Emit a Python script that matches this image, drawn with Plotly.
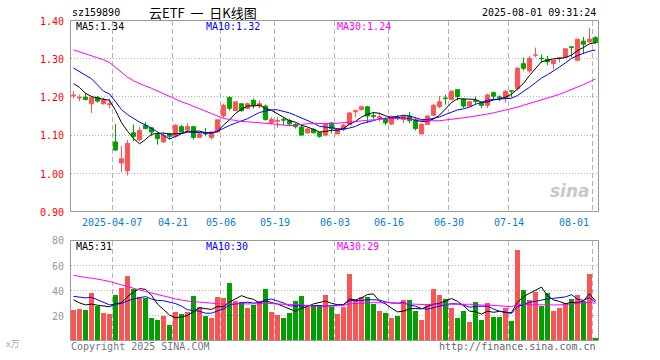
import numpy as np
import plotly.graph_objects as go

# ---------------- data ----------------
tick_index = [7, 17, 25, 34, 44, 53, 63, 73, 87]
tick_labels = ["2025-04-07", "04-21", "05-06", "05-19", "06-03", "06-16", "06-30", "07-14", "08-01"]

open_ = [1.203, 1.197, 1.199, 1.182, 1.199, 1.182, 1.180, 1.082, 1.027, 1.007,
         1.106, 1.088, 1.126, 1.119, 1.101, 1.082, 1.103, 1.097, 1.122, 1.114,
         1.122, 1.094, 1.106, 1.094, 1.108, 1.150, 1.199, 1.164, 1.182, 1.170,
         1.191, 1.176, 1.176, 1.132, 1.136, 1.141, 1.138, 1.128, 1.121, 1.106,
         1.115, 1.106, 1.100, 1.132, 1.103, 1.115, 1.128, 1.161, 1.167, 1.174,
         1.151, 1.145, 1.141, 1.129, 1.147, 1.141, 1.150, 1.138, 1.103, 1.128,
         1.152, 1.175, 1.197, 1.193, 1.219, 1.193, 1.176, 1.190, 1.184, 1.178,
         1.211, 1.200, 1.198, 1.216, 1.222, 1.287, 1.268, 1.309, 1.301, 1.298,
         1.287, 1.302, 1.304, 1.331, 1.296, 1.346, 1.344, 1.355]
high = [1.215, 1.206, 1.210, 1.200, 1.202, 1.198, 1.196, 1.129, 1.071, 1.087,
        1.128, 1.122, 1.134, 1.121, 1.106, 1.106, 1.106, 1.128, 1.126, 1.131,
        1.122, 1.108, 1.119, 1.110, 1.140, 1.182, 1.201, 1.187, 1.182, 1.185,
        1.196, 1.191, 1.180, 1.147, 1.147, 1.147, 1.143, 1.132, 1.126, 1.119,
        1.119, 1.108, 1.130, 1.134, 1.117, 1.130, 1.161, 1.167, 1.177, 1.177,
        1.161, 1.159, 1.147, 1.151, 1.152, 1.152, 1.161, 1.145, 1.132, 1.152,
        1.182, 1.202, 1.206, 1.217, 1.219, 1.196, 1.189, 1.201, 1.188, 1.208,
        1.214, 1.204, 1.219, 1.217, 1.278, 1.303, 1.307, 1.329, 1.311, 1.307,
        1.296, 1.304, 1.326, 1.333, 1.351, 1.357, 1.381, 1.359]
low = [1.196, 1.189, 1.191, 1.158, 1.185, 1.180, 1.170, 1.059, 1.003, 0.994,
       1.084, 1.084, 1.115, 1.097, 1.075, 1.080, 1.088, 1.093, 1.106, 1.106,
       1.088, 1.093, 1.097, 1.088, 1.106, 1.145, 1.164, 1.163, 1.161, 1.168,
       1.170, 1.170, 1.138, 1.128, 1.119, 1.126, 1.123, 1.117, 1.100, 1.104,
       1.104, 1.093, 1.097, 1.104, 1.103, 1.110, 1.126, 1.147, 1.164, 1.132,
       1.143, 1.136, 1.126, 1.126, 1.139, 1.131, 1.131, 1.112, 1.101, 1.126,
       1.150, 1.170, 1.180, 1.191, 1.191, 1.171, 1.174, 1.180, 1.171, 1.171,
       1.194, 1.189, 1.185, 1.199, 1.217, 1.269, 1.263, 1.304, 1.290, 1.283,
       1.272, 1.290, 1.302, 1.304, 1.294, 1.313, 1.342, 1.339]
close = [1.205, 1.199, 1.193, 1.198, 1.189, 1.193, 1.182, 1.061, 1.038, 1.078,
         1.097, 1.112, 1.117, 1.108, 1.091, 1.100, 1.097, 1.126, 1.108, 1.122,
         1.094, 1.103, 1.103, 1.108, 1.140, 1.178, 1.170, 1.187, 1.164, 1.182,
         1.178, 1.182, 1.141, 1.141, 1.138, 1.139, 1.129, 1.122, 1.100, 1.116,
         1.106, 1.097, 1.128, 1.117, 1.115, 1.126, 1.158, 1.164, 1.174, 1.150,
         1.149, 1.148, 1.132, 1.149, 1.145, 1.150, 1.138, 1.117, 1.128, 1.150,
         1.178, 1.187, 1.196, 1.215, 1.201, 1.176, 1.187, 1.188, 1.178, 1.205,
         1.202, 1.198, 1.214, 1.215, 1.275, 1.275, 1.301, 1.310, 1.300, 1.292,
         1.296, 1.303, 1.326, 1.329, 1.351, 1.338, 1.351, 1.342]
# closes of the 29 sessions before the window (estimated from the MA lines)
prior_close = [1.34, 1.35, 1.36, 1.35, 1.35, 1.40, 1.44, 1.45, 1.44, 1.38,
               1.34, 1.30, 1.28, 1.30, 1.33, 1.34, 1.32, 1.30, 1.28, 1.29,
               1.29, 1.30, 1.28, 1.35, 1.36, 1.25, 1.27, 1.24, 1.21]

volume = [24.8, 25.6, 24.8, 38.4, 27.7, 22.4, 21.6, 36.8, 42.4, 52.0,
          41.3, 34.9, 34.1, 18.4, 16.8, 19.7, 12.8, 23.2, 21.6, 23.2,
          36.0, 27.2, 19.5, 18.4, 35.2, 34.4, 46.4, 32.0, 31.2, 26.4,
          28.5, 32.0, 41.6, 23.2, 20.8, 18.4, 22.4, 32.0, 36.0, 27.2,
          28.8, 28.8, 36.8, 27.2, 21.6, 27.2, 53.6, 32.8, 35.2, 35.2,
          29.6, 24.0, 22.4, 18.4, 20.0, 32.8, 32.8, 24.0, 16.8, 29.6,
          41.6, 36.8, 33.6, 26.4, 18.4, 24.0, 15.2, 31.2, 16.8, 30.4,
          19.2, 19.2, 26.4, 16.0, 72.8, 40.8, 32.8, 39.2, 28.0, 38.4,
          24.0, 26.4, 30.4, 33.6, 36.8, 32.0, 53.6, 2.4]
# volumes of the 29 sessions before the window (estimated from the MA lines)
prior_volume = [55, 50, 52, 48, 53, 52, 80, 90, 78, 85, 78, 72, 55, 50, 58,
                54, 50, 48, 55, 50, 32, 30, 34, 48, 46, 38, 33, 35, 32]

price_ticks = [1.40, 1.30, 1.20, 1.10, 1.00, 0.90]
vol_ticks = [80, 60, 40, 20]

# ---------------- helpers ----------------
RED = "#fa5555"
GREEN = "#00a000"
MA_COLORS = {5: "#000000", 10: "#0000ff", 30: "#ff00ff"}
MONO = "DejaVu Sans Mono"
W, H = 660, 360


def ma(prior, vals, n):
    a = np.array(list(prior) + list(vals), float)
    return np.convolve(a, np.ones(n) / n, mode="valid")[-len(vals):]


def trunc(v, d):
    f = 10 ** d
    return np.floor(v * f + 1e-9) / f


o = np.array(open_)
c = np.array(close)
hi = np.array(high)
lo = np.array(low)
v = np.array(volume)
n = len(c)
x = np.arange(n)
up = c >= o

fig = go.Figure()

# wicks
for mask, col in ((up, RED), (~up, GREEN)):
    wx, wy = [], []
    for i in np.where(mask)[0]:
        wx += [i, i, None]
        wy += [lo[i], hi[i], None]
    fig.add_trace(go.Scatter(x=wx, y=wy, mode="lines", line=dict(color=col, width=1),
                             xaxis="x", yaxis="y", hoverinfo="skip"))

# bodies
for mask, col in ((up, RED), (~up, GREEN)):
    idx = np.where(mask)[0]
    base = np.minimum(o[idx], c[idx])
    hgt = np.maximum(np.abs(c[idx] - o[idx]), 0.0006)
    fig.add_trace(go.Bar(x=idx, y=hgt, base=base, width=0.7,
                         marker=dict(color=col, line=dict(color=col, width=1)),
                         xaxis="x", yaxis="y"))

# price MAs
pma = {k: ma(prior_close, close, k) for k in (5, 10, 30)}
for k in (5, 10, 30):
    fig.add_trace(go.Scatter(x=x, y=pma[k], mode="lines",
                             line=dict(color=MA_COLORS[k], width=1),
                             xaxis="x", yaxis="y"))

# volume bars
fig.add_trace(go.Bar(x=x, y=v, width=0.85,
                     marker=dict(color=[RED if u else GREEN for u in up], line=dict(width=0)),
                     xaxis="x2", yaxis="y2"))
vma = {k: ma(prior_volume, volume, k) for k in (5, 10, 30)}
for k in (5, 10, 30):
    fig.add_trace(go.Scatter(x=x, y=vma[k], mode="lines",
                             line=dict(color=MA_COLORS[k], width=1),
                             xaxis="x2", yaxis="y2"))

# ---------------- layout ----------------
XL, XR = 70.5, 598.5
MT, MB = 20.5, 211.5
VT, VB = 240.5, 340.5
grid_x = [t - 0.5 for t in tick_index]

xcommon = dict(range=[-0.5, n - 0.5], domain=[XL / W, XR / W], tickvals=grid_x,
               showticklabels=False, showgrid=True, gridcolor="#b4b4b4",
               griddash="5px,3px", gridwidth=1, zeroline=False, showline=False,
               ticks="", fixedrange=True)
fig.update_layout(
    width=W, height=H, margin=dict(l=0, r=0, t=0, b=0),
    paper_bgcolor="white", plot_bgcolor="white", showlegend=False,
    barmode="overlay", bargap=0, hovermode=False,
    xaxis=dict(anchor="y", **xcommon),
    xaxis2=dict(anchor="y2", **xcommon),
    yaxis=dict(domain=[1 - MB / H, 1 - MT / H], range=[0.9, 1.4],
               tickvals=[1.0, 1.1, 1.2, 1.3], showticklabels=False,
               showgrid=True, gridcolor="#b4b4b4", griddash="1px,2px",
               zeroline=False, showline=False, ticks="", fixedrange=True),
    yaxis2=dict(domain=[1 - VB / H, 1 - VT / H], range=[0, 80],
                tickvals=[20, 40, 60], showticklabels=False,
                showgrid=True, gridcolor="#b4b4b4", griddash="1px,2px",
                zeroline=False, showline=False, ticks="", fixedrange=True),
)

# panel frames
for xr, yr in (("x domain", "y domain"), ("x2 domain", "y2 domain")):
    fig.add_shape(type="rect", xref=xr, yref=yr, x0=0, x1=1, y0=0, y1=1,
                  line=dict(color="#999999", width=1), layer="above")


def txt(px, py, s, color="#000000", size=10, anchor="left", family=MONO, style="normal",
        weight="normal"):
    fig.add_annotation(xref="paper", yref="paper", x=px / W, y=1 - py / H, text=s,
                       showarrow=False, xanchor=anchor, yanchor="middle",
                       font=dict(family=family, size=size, color=color, style=style,
                                 weight=weight))


NB = "\u00a0"
# header
txt(70, 13, "sz159890")
txt(203, 13, "云ETF" + NB * 2 + "一" + NB * 2 + "日K线图", size=13, anchor="center",
    family="Noto Sans CJK SC")
txt(598, 13, "2025-08-01 09:31:24", anchor="right")

# MA legends
txt(74, 27, "MA5:%.2f" % trunc(pma[5][-1], 2), MA_COLORS[5])
txt(204, 27, "MA10:%.2f" % trunc(pma[10][-1], 2), MA_COLORS[10])
txt(335, 27, "MA30:%.2f" % trunc(pma[30][-1], 2), MA_COLORS[30])
txt(74, 246, "MA5:%d" % trunc(vma[5][-1], 0), MA_COLORS[5])
txt(204, 246, "MA10:%d" % trunc(vma[10][-1], 0), MA_COLORS[10])
txt(335, 246, "MA30:%d" % trunc(vma[30][-1], 0), MA_COLORS[30])

# price axis labels
for p in price_ticks:
    py = MT + (1.4 - p) / 0.5 * (MB - MT)
    txt(66, py + 0.8, "%.2f" % p, "#ff0000", anchor="right")
# volume axis labels
for q in vol_ticks:
    py = VT + (80 - q) / 80 * (VB - VT)
    txt(66, py + 0.5, "%d" % q, "#999999", anchor="right")
txt(4, 343, "x万", "#aaaaaa", size=9, family="Noto Sans CJK SC")

# date labels
for ti, lab in zip(tick_index, tick_labels):
    gx = XL + ti / n * (XR - XL)
    if ti == tick_index[-1]:
        txt(gx - 2, 222, lab, "#0b7dd1", anchor="right")
    else:
        txt(gx, 222, lab, "#0b7dd1", anchor="center")

# watermark and footer
txt(592, 191, "sina", "#c8c8c8", size=17, anchor="right", family="DejaVu Sans",
    style="italic", weight="bold")
txt(69, 346, "Copyright 2025 SINA.COM", "#777777")
txt(598, 346, "http://finance.sina.com.cn", "#666666", anchor="right")

fig.write_html("out.html", config={"displayModeBar": False, "staticPlot": True},
               post_script="document.body.style.margin='0';document.body.style.padding='0';")
